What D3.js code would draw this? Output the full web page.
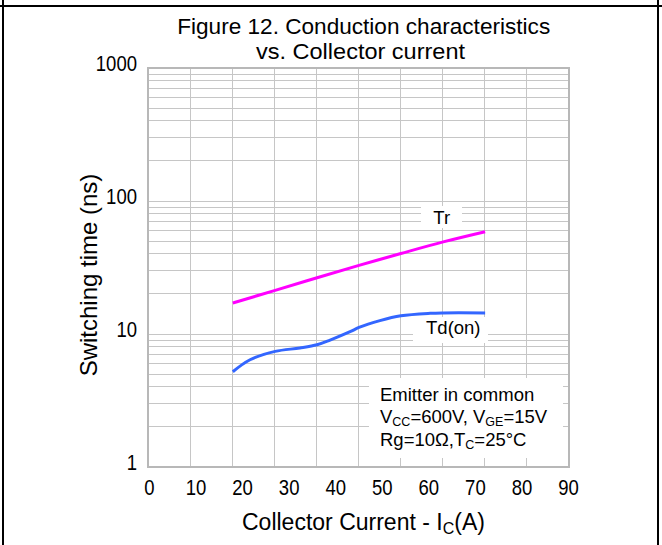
<!DOCTYPE html>
<html>
<head>
<meta charset="utf-8">
<script src="https://cdn.jsdelivr.net/npm/d3@7"></script>
<style>
  body { margin: 0; background: #fff; }
  svg { display: block; font-family: "Liberation Sans", Arial, sans-serif; }
</style>
</head>
<body>
<svg id="chart" width="662" height="545"></svg>
<script>
// values (x in A, y in ns)
const xTicks = [0, 10, 20, 30, 40, 50, 60, 70, 80, 90];
const yTicks = [1, 10, 100, 1000];
const trX = [18.0, 27.1, 36.1, 45.1, 54.1, 63.2, 72.2];
const trY = [17.1, 21.3, 26.5, 32.8, 40.3, 49.3, 58.8];
const tdX = [18.0, 21.7, 27.1, 32.4, 36.1, 38.9, 43.2, 45.1, 49.6, 54.1, 60.4, 63.2, 72.2];
const tdY = [5.2, 6.4, 7.4, 7.85, 8.3, 9.0, 10.4, 11.2, 12.6, 13.7, 14.3, 14.4, 14.4];

const svg = d3.select("#chart");
const W = 662, H = 545;
const pL = 148, pR = 569, pT = 68, pB = 467;

// outer cell border
svg.append("line").attr("x1", 0).attr("x2", W).attr("y1", 6).attr("y2", 6)
  .attr("stroke", "#000").attr("stroke-width", 2);
svg.append("line").attr("x1", 3).attr("x2", 3).attr("y1", 0).attr("y2", H)
  .attr("stroke", "#000").attr("stroke-width", 2);
svg.append("line").attr("x1", 658).attr("x2", 658).attr("y1", 0).attr("y2", H)
  .attr("stroke", "#000").attr("stroke-width", 2);

const x = d3.scaleLinear().domain([0, 90]).range([pL + 1, pR - 1]);
const y = d3.scaleLog().domain([1, 1000]).range([pB, pT]);
// the grid has 10 columns, not lined up with the labels
const gx = d3.scaleLinear().domain([0, 10]).range([pL, pR]);

const grid = svg.append("g").attr("stroke", "#c6c6c6").attr("stroke-width", 1)
  .attr("shape-rendering", "crispEdges");
grid.selectAll("line.v").data(d3.range(1, 10)).join("line").attr("class", "v")
  .attr("x1", d => gx(d)).attr("x2", d => gx(d)).attr("y1", pT).attr("y2", pB);
const minor = [];
[1, 10, 100].forEach(dec => d3.range(2, 11).forEach(k => minor.push(dec * k)));
grid.selectAll("line.h").data(minor).join("line").attr("class", "h")
  .attr("x1", pL).attr("x2", pR).attr("y1", d => y(d)).attr("y2", d => y(d));

// plot frame
svg.append("rect").attr("x", pL).attr("y", pT)
  .attr("width", pR - pL).attr("height", pB - pT)
  .attr("fill", "none").attr("stroke", "#b8b8b8").attr("stroke-width", 2);

// white label boxes
const boxes = [[421, 206, 41, 22], [413, 317, 75, 26], [369, 378, 194, 80]];
svg.selectAll("rect.box").data(boxes).join("rect").attr("class", "box")
  .attr("x", d => d[0]).attr("y", d => d[1]).attr("width", d => d[2]).attr("height", d => d[3])
  .attr("fill", "#fff");

// axes (labels only)
const xAxis = svg.append("g").attr("transform", `translate(0,${pB})`)
  .call(d3.axisBottom(x).tickValues(xTicks).tickSize(0).tickPadding(12).tickFormat(d3.format("d")));
const yAxis = svg.append("g").attr("transform", `translate(${pL},0)`)
  .call(d3.axisLeft(y).tickValues(yTicks).tickSize(0).tickPadding(11).tickFormat(d3.format("d")));
[xAxis, yAxis].forEach(a => {
  a.select(".domain").remove();
  a.selectAll("text").attr("fill", "#000").attr("font-size", 22)
    .attr("font-family", "Liberation Sans, Arial, sans-serif")
    .attr("textLength", d => String(d).length * 10.3).attr("lengthAdjust", "spacingAndGlyphs");
});
yAxis.selectAll("text").attr("dy", "0.1em");

// curves
const line = d3.line().x(d => x(d[0])).y(d => y(d[1])).curve(d3.curveCatmullRom.alpha(0.5));
svg.append("path").datum(d3.zip(trX, trY)).attr("d", line)
  .attr("fill", "none").attr("stroke", "#ff00ff").attr("stroke-width", 3);
svg.append("path").datum(d3.zip(tdX, tdY)).attr("d", line)
  .attr("fill", "none").attr("stroke", "#3366ff").attr("stroke-width", 3);

// series labels
svg.append("text").attr("x", 441.7).attr("y", 224).attr("text-anchor", "middle")
  .attr("font-size", 18.5).text("Tr");
svg.append("text").attr("x", 453.3).attr("y", 333.5).attr("text-anchor", "middle")
  .attr("font-size", 18.5).text("Td(on)");

// conditions
const note = svg.append("g").attr("font-size", 18.5);
note.append("text").attr("x", 380).attr("y", 400.7).text("Emitter in common");
const l2 = note.append("text").attr("x", 380).attr("y", 423.3);
l2.append("tspan").text("V");
l2.append("tspan").attr("font-size", 12.5).attr("dy", 3).text("CC");
l2.append("tspan").attr("dy", -3).text("=600V, V");
l2.append("tspan").attr("font-size", 12.5).attr("dy", 3).text("GE");
l2.append("tspan").attr("dy", -3).text("=15V");
const l3 = note.append("text").attr("x", 380).attr("y", 445.5);
l3.append("tspan").text("Rg=10\u03A9,T");
l3.append("tspan").attr("font-size", 12.5).attr("dy", 3).text("C");
l3.append("tspan").attr("dy", -3).text("=25\u00B0C");

// title
svg.append("text").attr("x", 363.7).attr("y", 34).attr("text-anchor", "middle")
  .attr("font-size", 22.5).attr("textLength", 373).attr("lengthAdjust", "spacingAndGlyphs")
  .text("Figure 12. Conduction characteristics");
svg.append("text").attr("x", 360.5).attr("y", 59).attr("text-anchor", "middle")
  .attr("font-size", 22.5).attr("textLength", 209).attr("lengthAdjust", "spacingAndGlyphs")
  .text("vs. Collector current");

// axis titles
svg.append("text").attr("transform", "translate(97,275) rotate(-90)")
  .attr("text-anchor", "middle").attr("font-size", 24).text("Switching time (ns)");
const xl = svg.append("text").attr("x", 242).attr("y", 530).attr("font-size", 23);
xl.append("tspan").text("Collector Current - I");
xl.append("tspan").attr("font-size", 16).attr("dy", 4).text("C");
xl.append("tspan").attr("dy", -4).text("(A)");
</script>
</body>
</html>
